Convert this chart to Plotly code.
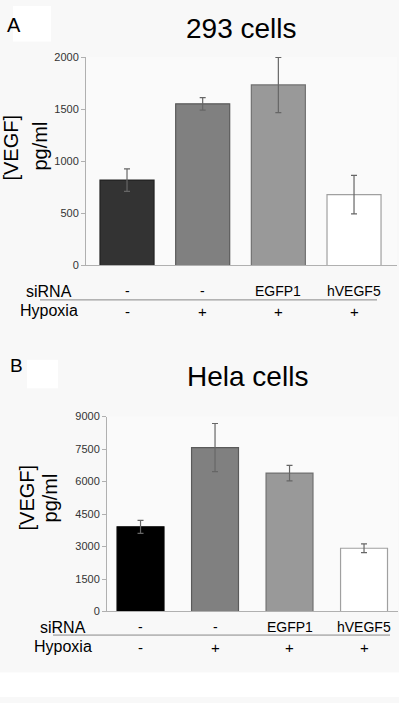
import plotly.graph_objects as go

# ---- data ----
conditions = ["ctrl", "hypoxia", "EGFP1", "hVEGF5"]
sirna_labels = ["-", "-", "EGFP1", "hVEGF5"]
hypoxia_labels = ["-", "+", "+", "+"]

vegf_293 = [820, 1552, 1733, 680]
err_293 = [108, 60, 265, 185]

vegf_hela = [3910, 7570, 6390, 2920]
err_hela = [300, 1110, 360, 200]

yticks_293 = [0, 500, 1000, 1500, 2000]
yticks_hela = [0, 1500, 3000, 4500, 6000, 7500, 9000]

colors_293 = ["#333333", "#808080", "#999999", "#ffffff"]
colors_hela = ["#000000", "#808080", "#999999", "#ffffff"]
line_293 = ["#222222", "#5a5a5a", "#707070", "#a0a0a0"]
line_hela = ["#000000", "#5a5a5a", "#707070", "#a0a0a0"]

W, H = 399, 703
FONT = "Liberation Sans, Arial, sans-serif"

def px(x):
    return x / W

def py(y):
    return 1 - y / H

xs = list(range(len(conditions)))

fig = go.Figure()
fig.add_trace(go.Bar(
    x=xs, y=vegf_293, width=0.714,
    marker=dict(color=colors_293, line=dict(color=line_293, width=1.2)),
    error_y=dict(type="data", array=err_293, visible=True, color="#666666",
                 thickness=1.2, width=3),
    xaxis="x", yaxis="y", showlegend=False, hoverinfo="skip"))
fig.add_trace(go.Bar(
    x=xs, y=vegf_hela, width=0.63,
    marker=dict(color=colors_hela, line=dict(color=line_hela, width=1.2)),
    error_y=dict(type="data", array=err_hela, visible=True, color="#666666",
                 thickness=1.2, width=3),
    xaxis="x2", yaxis="y2", showlegend=False, hoverinfo="skip"))

axis_common = dict(showgrid=False, zeroline=False, showline=True,
                   linecolor="#b0b0b0", linewidth=1)

fig.update_layout(
    width=W, height=H,
    margin=dict(l=0, r=0, t=0, b=0),
    paper_bgcolor="#f8f8f8",
    plot_bgcolor="#fafafa",
    font=dict(family=FONT, color="#000"),
    xaxis=dict(domain=[px(86), px(397)], range=[-0.542, 3.568],
               showticklabels=False, ticks="", anchor="y", **axis_common),
    yaxis=dict(domain=[py(264), py(52)], range=[0, 2000],
               tickvals=yticks_293, ticks="outside", ticklen=4,
               tickcolor="#b0b0b0", tickfont=dict(size=11, color="#333"),
               anchor="x", **axis_common),
    xaxis2=dict(domain=[px(107), px(398)], range=[-0.45, 3.456],
                showticklabels=False, ticks="", anchor="y2", **axis_common),
    yaxis2=dict(domain=[py(616), py(417.7)], range=[0, 9000],
                tickvals=yticks_hela, ticks="outside", ticklen=4,
                tickcolor="#b0b0b0", tickfont=dict(size=11, color="#333"),
                anchor="x2", **axis_common),
)

shapes = [
    # white strip at bottom
    dict(type="rect", xref="paper", yref="paper", x0=0, x1=1, y0=0, y1=py(678),
         fillcolor="white", line=dict(width=0), layer="below"),
    # white boxes next to panel letters
    dict(type="rect", xref="paper", yref="paper", x0=px(13), x1=px(51),
         y0=py(36), y1=py(0), fillcolor="white", line=dict(width=0), layer="below"),
    dict(type="rect", xref="paper", yref="paper", x0=px(27), x1=px(58),
         y0=py(389), y1=py(360), fillcolor="white", line=dict(width=0), layer="below"),
    # separator lines
    dict(type="line", xref="paper", yref="paper", x0=px(40), x1=px(377),
         y0=py(299), y1=py(299), line=dict(color="#888", width=1)),
    dict(type="line", xref="paper", yref="paper", x0=px(53), x1=px(390),
         y0=py(640), y1=py(640), line=dict(color="#888", width=1)),
]

ann = []
def text(x, y, s, size, xref="paper", rot=0, xanchor="center"):
    ann.append(dict(x=x, y=py(y), xref=xref, yref="paper", text=s,
                    showarrow=False, xanchor=xanchor, yanchor="middle",
                    textangle=rot, font=dict(size=size, family=FONT, color="#000")))

# panel letters & titles
text(px(14), 19, "A", 20)
text(px(241), 23, "293 cells", 28)
text(px(16), 366, "B", 19)
text(px(247), 377, "Hela cells", 28)

# y titles
text(px(11), 144, "[VEGF]", 20, rot=-90)
text(px(40), 143, "pg/ml", 20, rot=-90)
text(px(27), 500, "[VEGF]", 20, rot=-90)
text(px(50), 501, "pg/ml", 20, rot=-90)

# row labels
text(px(49), 290, "siRNA", 16)
text(px(49), 310, "Hypoxia", 16)
text(px(63), 632, "siRNA", 16)
text(px(63), 652, "Hypoxia", 16)

for i in xs:
    text(i, 290, sirna_labels[i], 14, xref="x")
    text(i, 311, hypoxia_labels[i], 15, xref="x")
    text(i, 632, sirna_labels[i], 14, xref="x2")
    text(i, 653, hypoxia_labels[i], 15, xref="x2")

fig.update_layout(shapes=shapes, annotations=ann)
fig.write_html("out.html", config={"displayModeBar": False},
               post_script="document.body.style.margin='0';document.body.style.padding='0';")
